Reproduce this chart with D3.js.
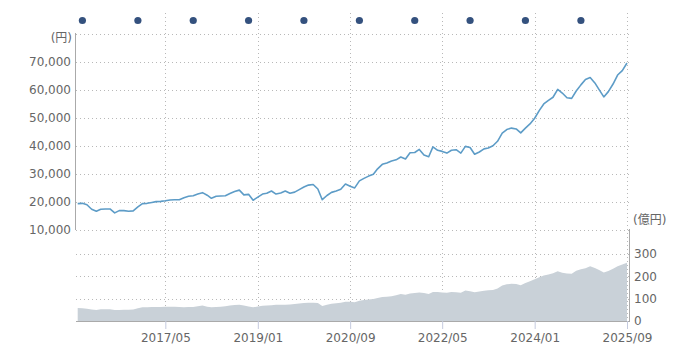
<!DOCTYPE html>
<html>
<head>
<meta charset="utf-8">
<script src="https://cdn.jsdelivr.net/npm/d3@7"></script>
<style>
  body { margin: 0; background: #fff; }
  svg text { font-family: "DejaVu Sans", "Noto Sans CJK JP", sans-serif; }
</style>
</head>
<body>
<div id="chart"></div>
<script>
// monthly series, first month 2015/10
const firstMonth = "2015-10";

// 基準価額 (円)
const price = [
  19400, 19500, 19000, 17400, 16700, 17400, 17500, 17500, 16100, 16900,
  16900, 16700, 16800, 18200, 19400, 19500, 19800, 20100, 20200, 20400,
  20700, 20800, 20800, 21500, 22000, 22200, 22800, 23300, 22400, 21300,
  22000, 22100, 22200, 23000, 23700, 24200, 22500, 22700, 20600, 21700,
  22800, 23100, 23900, 22800, 23200, 23900, 23100, 23500, 24400, 25300,
  26000, 26200, 24600, 20800, 22300, 23400, 23900, 24500, 26400, 25600,
  25000, 27500, 28400, 29200, 29900, 31800, 33400, 33900, 34600, 35000,
  36000, 35300, 37500, 37600, 38700, 36700, 36100, 39600, 38400, 38000,
  37400, 38400, 38600, 37400, 39800, 39400, 37000, 37800, 38900, 39200,
  40000, 41600, 44500, 45800, 46300, 46000, 44600, 46300, 47800, 49800,
  52600, 54900, 56200, 57300, 60100, 58800, 57100, 56900, 59500, 61700,
  63600, 64300, 62400, 60000, 57400, 59300, 62000, 65200, 66800, 69500
];

// 純資産総額 (億円)
const assets = [
  58, 57, 55, 51, 49, 52, 53, 53, 49, 49,
  50, 50, 51, 57, 61, 61, 62, 63, 63, 64,
  64, 64, 63, 61, 62, 63, 66, 69, 64, 61,
  63, 64, 66, 69, 71, 72, 69, 65, 61, 65,
  68, 69, 70, 72, 73, 73, 74, 76, 78, 80,
  82, 82, 80, 67, 73, 77, 79, 82, 86, 86,
  84, 90, 94, 96, 98, 103, 107, 108, 110, 115,
  120, 117, 123, 125, 127, 125, 121, 130, 129, 127,
  126, 129, 128, 126, 136, 133, 128, 132, 135, 137,
  138, 145, 158, 164, 166, 165, 160, 170, 178, 186,
  195, 203, 208, 213, 222, 215, 212, 211, 224, 231,
  236, 244, 237, 228, 217, 223, 233, 244, 252, 260
];

// 決算日 markers
const settlements = ["2015-11", "2016-11", "2017-11", "2018-11", "2019-11",
                     "2020-11", "2021-11", "2022-11", "2023-11", "2024-11"];

const xTicks = ["2017/05", "2019/01", "2020/09", "2022/05", "2024/01", "2025/09"];
const priceTicks = [10000, 20000, 30000, 40000, 50000, 60000, 70000];
const assetTicks = [0, 100, 200, 300];

const width = 676, height = 351;
const left = 76, right = 627;
const parseMonth = d3.timeParse("%Y-%m");
const parseTick = d3.timeParse("%Y/%m");

const start = parseMonth(firstMonth);
const months = price.map((d, i) => d3.timeMonth.offset(start, i));
const data = months.map((m, i) => ({date: m, price: price[i], assets: assets[i]}));

const svg = d3.select("#chart")
  .append("svg")
  .attr("width", width)
  .attr("height", height);

const x = d3.scaleTime()
  .domain([start, months[months.length - 1]])
  .range([77.7, right]);

const y = d3.scaleLinear().domain([10000, 80000]).range([230, 33.5]);
const y2 = d3.scaleLinear().domain([0, 400]).range([321, 231.4]);

const gridColor = "#b8b8b8";
const textColor = "#666";

// horizontal grid lines
const grid = svg.append("g")
  .attr("stroke", gridColor)
  .attr("stroke-dasharray", "1,3");

grid.selectAll(".hp")
  .data(priceTicks.concat([80000]))
  .join("line")
    .attr("x1", left).attr("x2", right + 2)
    .attr("y1", d => Math.round(y(d)) + 0.5)
    .attr("y2", d => Math.round(y(d)) + 0.5);

grid.selectAll(".ha")
  .data(assetTicks.slice(1))
  .join("line")
    .attr("x1", left).attr("x2", right + 2)
    .attr("y1", d => Math.round(y2(d)) + 0.5)
    .attr("y2", d => Math.round(y2(d)) + 0.5);

// vertical grid lines
grid.selectAll(".v")
  .data(xTicks)
  .join("line")
    .attr("x1", d => Math.round(x(parseTick(d))) + 0.5)
    .attr("x2", d => Math.round(x(parseTick(d))) + 0.5)
    .attr("y1", 13).attr("y2", 321);

// net assets area
svg.append("path")
  .datum(data)
  .attr("fill", "#c9d1d8")
  .attr("d", d3.area()
    .x(d => x(d.date))
    .y0(y2(0))
    .y1(d => y2(d.assets)));

// price line
svg.append("path")
  .datum(data)
  .attr("fill", "none")
  .attr("stroke", "#5d9cc7")
  .attr("stroke-width", 1.6)
  .attr("stroke-linejoin", "round")
  .attr("d", d3.line()
    .x(d => x(d.date))
    .y(d => y(d.price)));

// settlement dots
svg.append("g")
  .selectAll("circle")
  .data(settlements)
  .join("circle")
    .attr("cx", d => x(parseMonth(d)))
    .attr("cy", 20.5)
    .attr("r", 3.6)
    .attr("fill", "#34517e");

// axes lines
svg.append("line")
  .attr("x1", left - 0.5).attr("x2", left - 0.5)
  .attr("y1", 33).attr("y2", 230)
  .attr("stroke", "#aaa");
svg.append("line")
  .attr("x1", right + 2.5).attr("x2", right + 2.5)
  .attr("y1", 229).attr("y2", 321)
  .attr("stroke", "#aaa");
svg.append("line")
  .attr("x1", left).attr("x2", right + 3)
  .attr("y1", 321.5).attr("y2", 321.5)
  .attr("stroke", "#aaa");

// x axis
const xAxis = svg.append("g")
  .attr("transform", "translate(0,321)")
  .call(d3.axisBottom(x)
    .tickValues(xTicks.map(parseTick))
    .tickFormat(d3.timeFormat("%Y/%m"))
    .tickSize(8)
    .tickPadding(4));
xAxis.select(".domain").remove();
xAxis.selectAll("line").attr("stroke", "#c4cade");
xAxis.selectAll("text")
  .attr("fill", textColor)
  .style("font-size", "12px");

// left axis (price)
const yAxis = svg.append("g")
  .attr("transform", `translate(${left - 4},0)`)
  .call(d3.axisLeft(y)
    .tickValues(priceTicks)
    .tickFormat(d3.format(","))
    .tickSize(0)
    .tickPadding(1));
yAxis.select(".domain").remove();
yAxis.selectAll("text")
  .attr("fill", textColor)
  .style("font-size", "12px");

// right axis (assets)
const y2Axis = svg.append("g")
  .attr("transform", `translate(${right + 6},0)`)
  .call(d3.axisRight(y2)
    .tickValues(assetTicks)
    .tickSize(0)
    .tickPadding(1));
y2Axis.select(".domain").remove();
y2Axis.selectAll("text")
  .attr("fill", textColor)
  .style("font-size", "12px");

// unit labels
svg.append("text")
  .attr("x", left - 4).attr("y", 38)
  .attr("dy", "0.32em")
  .attr("text-anchor", "end")
  .attr("fill", textColor)
  .style("font-size", "12px")
  .text("(円)");

svg.append("text")
  .attr("x", right + 6).attr("y", 220)
  .attr("dy", "0.32em")
  .attr("fill", textColor)
  .style("font-size", "12px")
  .text("(億円)");
</script>
</body>
</html>
